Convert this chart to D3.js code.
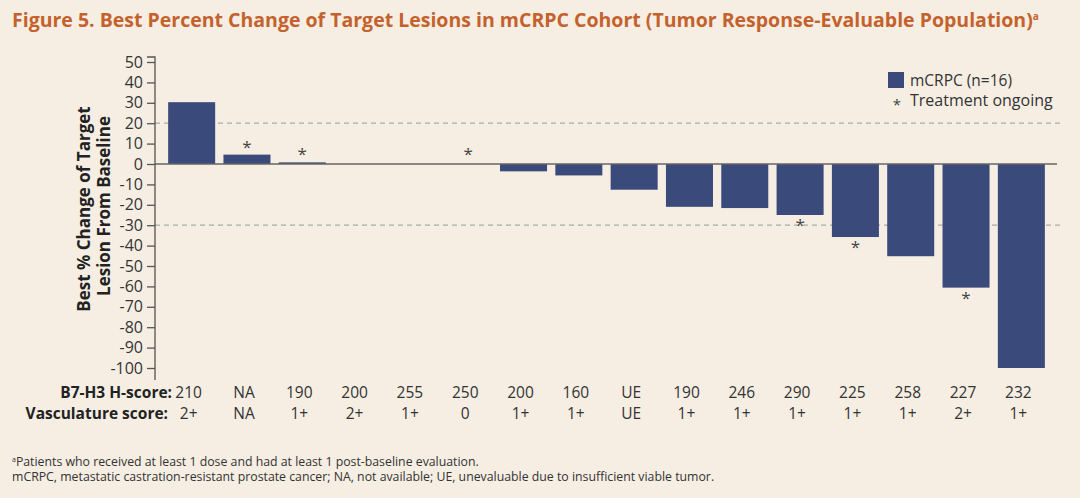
<!DOCTYPE html>
<html>
<head>
<meta charset="utf-8">
<script src="https://cdn.jsdelivr.net/npm/d3@7"></script>
<style>
  body { margin: 0; background: #f6eee3; }
  svg { font-family: "Open Sans", sans-serif; }
</style>
</head>
<body>
<div id="chart"></div>
<script>
var hScores = ["210", "NA", "190", "200", "255", "250", "200", "160", "UE", "190", "246", "290", "225", "258", "227", "232"];
var vascScores = ["2+", "NA", "1+", "2+", "1+", "0", "1+", "1+", "UE", "1+", "1+", "1+", "1+", "1+", "2+", "1+"];
var bestChange = [30.3, 4.6, 0.8, 0, 0, 0, -3.6, -5.6, -12.6, -21, -21.6, -25, -35.8, -45.2, -60.6, -100];
var ongoing = [false, true, true, false, false, true, false, false, false, false, false, true, true, false, true, false];
var yTicks = [50, 40, 30, 20, 10, 0, -10, -20, -30, -40, -50, -60, -70, -80, -90, -100];
var refLines = [20, -30];

var svgWidth = 1080;
var svgHeight = 498;
var barColor = "#3a4a7b";
var textColor = "#333";

var svg = d3.select("#chart")
  .append("svg")
  .attr("width", svgWidth)
  .attr("height", svgHeight);

svg.append("rect")
  .attr("width", svgWidth)
  .attr("height", svgHeight)
  .attr("fill", "#f6eee3");

// Title
var title = svg.append("text")
  .attr("x", 12)
  .attr("y", 27)
  .attr("fill", "#c4622d")
  .attr("font-weight", "bold")
  .attr("font-size", "19.5px")
  .text("Figure 5. Best Percent Change of Target Lesions in mCRPC Cohort (Tumor Response-Evaluable Population)");
title.append("tspan")
  .attr("font-size", "10px")
  .attr("dy", "-7")
  .text("a");

var idx = d3.range(bestChange.length);

var x = d3.scaleBand()
  .domain(idx)
  .range([164, 1049])
  .paddingInner(0.15)
  .paddingOuter(0.075);

var y = d3.scaleLinear()
  .domain([-100, 50])
  .range([368, 62]);

// Reference dashed lines
svg.selectAll(".ref")
  .data(refLines)
  .enter()
  .append("line")
  .attr("x1", 155)
  .attr("x2", 1060)
  .attr("y1", d => y(d))
  .attr("y2", d => y(d))
  .attr("stroke", "#aaa")
  .attr("stroke-width", 1.3)
  .attr("stroke-dasharray", "5,4");

// Bars
svg.selectAll(".bar")
  .data(idx)
  .enter()
  .append("rect")
  .attr("x", i => x(i))
  .attr("width", x.bandwidth())
  .attr("y", i => y(Math.max(0, bestChange[i])))
  .attr("height", i => Math.abs(y(bestChange[i]) - y(0)))
  .attr("fill", barColor);

// zero line
svg.append("line")
  .attr("x1", 155)
  .attr("x2", 1057)
  .attr("y1", y(0))
  .attr("y2", y(0))
  .attr("stroke", "#666")
  .attr("stroke-width", 1.3);

// Stars for ongoing treatment
svg.selectAll(".star")
  .data(idx.filter(i => ongoing[i]))
  .enter()
  .append("text")
  .attr("x", i => x(i) + x.bandwidth() / 2)
  .attr("y", function(i) {
    var v = bestChange[i];
    if (v > 0) return y(v) - 2;
    if (v === 0) return y(0) - 4;
    return y(v) + 16;
  })
  .attr("text-anchor", "middle")
  .attr("font-size", "17px")
  .attr("fill", "#444")
  .text("*");

// Y axis
var leftAxis = d3.axisLeft(y)
  .tickValues(yTicks)
  .tickSize(8)
  .tickPadding(4)
  .tickFormat(d => String(d));

var yAxis = svg.append("g")
  .attr("transform", "translate(155,0)")
  .call(leftAxis);
yAxis.select(".domain")
  .attr("d", "M-8,57H0V380")
  .attr("stroke", "#555")
  .attr("stroke-width", 1.3);
yAxis.selectAll(".tick line").attr("stroke", "#555").attr("stroke-width", 1.3);
yAxis.selectAll(".tick text")
  .attr("font-family", "'Open Sans', sans-serif")
  .attr("font-size", "16px")
  .attr("fill", textColor);

// Y axis label
svg.append("text")
  .attr("transform", "translate(90, 209) rotate(-90)")
  .attr("text-anchor", "middle")
  .attr("font-weight", "bold")
  .attr("font-size", "17px")
  .attr("fill", "#222")
  .text("Best % Change of Target");
svg.append("text")
  .attr("transform", "translate(110, 206) rotate(-90)")
  .attr("text-anchor", "middle")
  .attr("font-weight", "bold")
  .attr("font-size", "17px")
  .attr("fill", "#222")
  .text("Lesion From Baseline");

// Legend
svg.append("rect")
  .attr("x", 888)
  .attr("y", 72)
  .attr("width", 16)
  .attr("height", 16)
  .attr("fill", barColor);
svg.append("text")
  .attr("x", 910)
  .attr("y", 86)
  .attr("font-size", "15.5px")
  .attr("fill", textColor)
  .text("mCRPC (n=16)");
svg.append("text")
  .attr("x", 897)
  .attr("y", 110)
  .attr("text-anchor", "middle")
  .attr("font-size", "15px")
  .attr("fill", "#444")
  .text("*");
svg.append("text")
  .attr("x", 910)
  .attr("y", 106)
  .attr("font-size", "16px")
  .attr("fill", textColor)
  .text("Treatment ongoing");

// Bottom score rows
svg.append("text")
  .attr("x", 172)
  .attr("y", 398)
  .attr("text-anchor", "end")
  .attr("font-weight", "bold")
  .attr("font-size", "15.5px")
  .attr("fill", "#222")
  .text("B7-H3 H-score:");
svg.append("text")
  .attr("x", 168)
  .attr("y", 419)
  .attr("text-anchor", "end")
  .attr("font-weight", "bold")
  .attr("font-size", "15.5px")
  .attr("fill", "#222")
  .text("Vasculature score:");

svg.selectAll(".hs")
  .data(idx)
  .enter()
  .append("text")
  .attr("x", i => x(i) + x.bandwidth() / 2 - 3)
  .attr("y", 398)
  .attr("text-anchor", "middle")
  .attr("font-size", "15.5px")
  .attr("fill", textColor)
  .text(i => hScores[i]);

svg.selectAll(".vs")
  .data(idx)
  .enter()
  .append("text")
  .attr("x", i => x(i) + x.bandwidth() / 2 - 3)
  .attr("y", 419)
  .attr("text-anchor", "middle")
  .attr("font-size", "15.5px")
  .attr("fill", textColor)
  .text(i => vascScores[i]);

// Footnotes
var fn1 = svg.append("text")
  .attr("x", 12)
  .attr("y", 466)
  .attr("font-size", "12.3px")
  .attr("fill", textColor);
fn1.append("tspan").attr("font-size", "7px").attr("dy", "-4").text("a");
fn1.append("tspan").attr("dy", "4").text("Patients who received at least 1 dose and had at least 1 post-baseline evaluation.");

svg.append("text")
  .attr("x", 12)
  .attr("y", 481)
  .attr("font-size", "12.3px")
  .attr("fill", textColor)
  .text("mCRPC, metastatic castration-resistant prostate cancer; NA, not available; UE, unevaluable due to insufficient viable tumor.");
</script>
</body>
</html>
